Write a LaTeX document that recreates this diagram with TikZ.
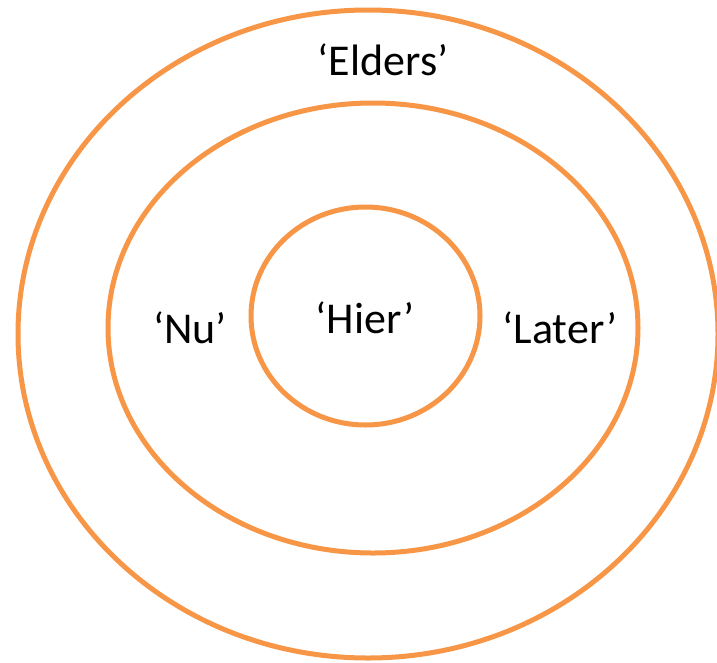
\documentclass[tikz,border=0pt]{standalone}
\usepackage{fontspec}
\setmainfont{Carlito}
\definecolor{ringorange}{HTML}{F79646}
\begin{document}
\begin{tikzpicture}[
  x=1pt, y=-1pt,
  ring/.style={draw=ringorange, line width=5pt},
  every node/.style={font=\fontsize{44}{52}\selectfont, inner sep=0pt}
]
\useasboundingbox (0,0) rectangle (717,662);
% rings
\draw[ring] (368,334) ellipse [x radius=350, y radius=324];
\draw[ring] (373,328) ellipse [x radius=265, y radius=225];
\draw[ring] (365.5,316) ellipse [x radius=114.5, y radius=109];
% labels
\node (elders) at (383,60) {‘Elders’};
\node (nu)     at (190,328) {‘Nu’};
\node (hier)   at (365,318) {‘Hier’};
\node (later)  at (560,328) {‘Later’};
\end{tikzpicture}
\end{document}
